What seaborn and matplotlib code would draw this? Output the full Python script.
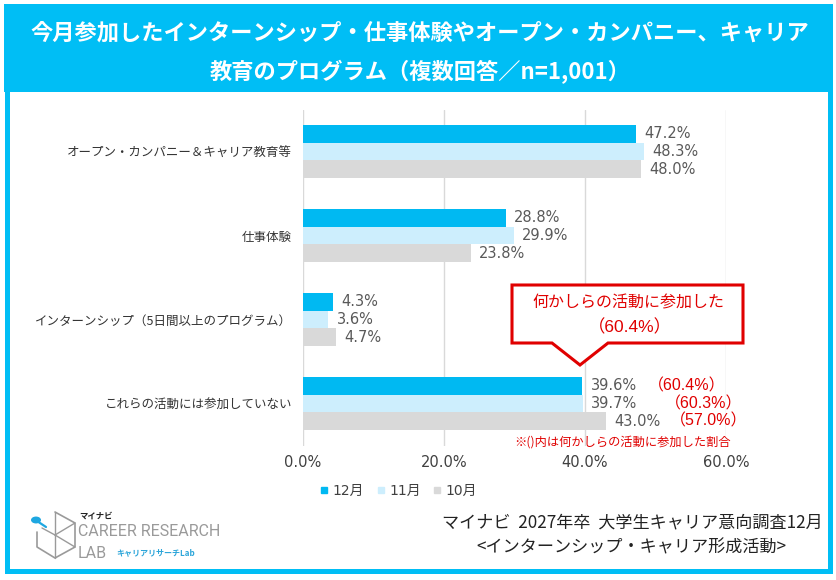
import matplotlib
matplotlib.use("Agg")
import matplotlib.pyplot as plt
import seaborn as sns
import pandas as pd
from matplotlib.patches import Rectangle, Polygon, Circle
from matplotlib.lines import Line2D

# ---------------- data ----------------
categories = [
    "オープン・カンパニー＆キャリア教育等",
    "仕事体験",
    "インターンシップ（5日間以上のプログラム）",
    "これらの活動には参加していない",
]
months = ["12月", "11月", "10月"]
values_dec = [47.2, 28.8, 4.3, 39.6]
values_nov = [48.3, 29.9, 3.6, 39.7]
values_oct = [48.0, 23.8, 4.7, 43.0]
participated = [60.4, 60.3, 57.0]  # 何かしらの活動に参加した割合 (12月, 11月, 10月)
x_ticks = [0, 20, 40, 60]
x_tick_labels = ["0.0%", "20.0%", "40.0%", "60.0%"]
title_lines = [
    "今月参加したインターンシップ・仕事体験やオープン・カンパニー、キャリア",
    "教育のプログラム（複数回答／n=1,001）",
]
callout_title = "何かしらの活動に参加した"
note_text = "※()内は何かしらの活動に参加した割合"
source_lines = [
    "マイナビ  2027年卒  大学生キャリア意向調査12月",
    "<インターンシップ・キャリア形成活動>",
]

# ---------------- style ----------------
W, H = 837, 580
CYAN_BAND = "#00BEF5"
colors = ["#00B9F2", "#CDEEFD", "#D9D9D9"]
RED = "#E00000"
NUM_FONT = ["DejaVu Sans", "Noto Sans CJK JP"]
JP_FONT = ["Noto Sans CJK JP", "DejaVu Sans"]
RED_NUM_FONT = ["Liberation Sans", "Noto Sans CJK JP"]
red_offsets_pt = [49, 61, 48]

sns.set_theme(style="white")
plt.rcParams["font.family"] = JP_FONT


def fx(px):
    return px / W


def fy(py):
    return 1 - py / H


df = pd.DataFrame({
    "category": categories * 3,
    "month": [m for m in months for _ in categories],
    "value": values_dec + values_nov + values_oct,
})

fig = plt.figure(figsize=(W / 100, H / 100), dpi=100)
fig.patch.set_facecolor("white")

# outer frame and title band
fig.patches.append(Rectangle((fx(4), fy(92)), fx(833) - fx(4), fy(4) - fy(92),
                             transform=fig.transFigure, facecolor=CYAN_BAND,
                             edgecolor="none", zorder=0))
fig.patches.append(Rectangle((fx(7), fy(571)), fx(830) - fx(7), fy(6) - fy(571),
                             transform=fig.transFigure, facecolor="none",
                             edgecolor=CYAN_BAND, linewidth=3.6, zorder=0))

fig.text(fx(420), fy(33), title_lines[0], ha="center", va="center",
         color="white", fontsize=16, fontweight="bold")
fig.text(fx(420), fy(72), title_lines[1], ha="center", va="center",
         color="white", fontsize=16, fontweight="bold")

ax = fig.add_axes([fx(303), fy(445.5), fx(726) - fx(303), fy(109.5) - fy(445.5)])
ax.patch.set_alpha(0)

sns.barplot(data=df, y="category", x="value", hue="month", hue_order=months,
            order=categories, palette=colors, orient="h", width=0.625,
            errorbar=None, linewidth=0, saturation=1, legend=False, ax=ax)

for cont in ax.containers:
    ax.bar_label(cont, fmt="%.1f%%", padding=6, fontsize=10.5,
                 color="#595959", family=NUM_FONT)

# parenthesised participation rates next to the last category's bars
for j, cont in enumerate(ax.containers):
    bar = cont.patches[-1]
    ax.annotate(f"（{participated[j]:.1f}%）",
                xy=(bar.get_width(), bar.get_y() + bar.get_height() / 2),
                xytext=(red_offsets_pt[j] - 2, 0), textcoords="offset points",
                ha="left", va="center", fontsize=11.5, color=RED,
                family=RED_NUM_FONT, annotation_clip=False)

ax.set_xlim(0, 60)
ax.set_ylim(3.5, -0.5)
ax.set_xticks(x_ticks)
ax.set_xticklabels(x_tick_labels, fontsize=10.5, color="#404040", family=NUM_FONT)
ax.set_yticks(range(len(categories)))
ax.set_yticklabels(categories, fontsize=9.0, color="#333333")
ax.tick_params(axis="both", length=0)
ax.tick_params(axis="y", pad=8)
ax.tick_params(axis="x", pad=7)
ax.set_xlabel("")
ax.set_ylabel("")
for s in ax.spines.values():
    s.set_visible(False)
ax.grid(axis="x", color="#D9D9D9", linewidth=1)
ax.set_axisbelow(True)

# callout box
callout = Polygon([(fx(512), fy(285)), (fx(743), fy(285)), (fx(743), fy(343)),
                   (fx(608), fy(343)), (fx(580), fy(365)), (fx(552), fy(343)),
                   (fx(512), fy(343))], closed=True, transform=fig.transFigure,
                  facecolor="white", edgecolor=RED, linewidth=2.2,
                  clip_on=False, zorder=5)
ax.add_patch(callout)
ax.set_xlim(0, 60)
ax.set_ylim(3.5, -0.5)
fig.text(fx(628), fy(303), callout_title, ha="center", va="center",
         fontsize=11.5, color=RED, zorder=6)
fig.text(fx(630), fy(327), f"（{participated[0]:.1f}%）", ha="center",
         va="center", fontsize=12.5, color=RED, family=RED_NUM_FONT, zorder=6)

fig.text(fx(623), fy(442), note_text, ha="center", va="center",
         fontsize=8.8, color=RED)

# legend
handles = [Line2D([], [], marker="s", linestyle="", color=c, markersize=4.5)
           for c in colors]
fig.legend(handles, months, loc="center", bbox_to_anchor=(fx(398), fy(491)),
           ncol=3, frameon=False, handletextpad=0.2, columnspacing=0.8,
           handlelength=0.8, prop={"family": NUM_FONT, "size": 10},
           labelcolor="#404040")

# source
fig.text(fx(823), fy(522), source_lines[0], ha="right", va="center",
         fontsize=12.3, color="#222222")
fig.text(fx(631), fy(547), source_lines[1], ha="center", va="center",
         fontsize=12.3, color="#222222")

# logo
GRAY = "#9A9A9A"
icon = [(55, 512), (75, 523), (75, 547), (55, 558), (37, 547), (37, 532)]
xs = [fx(p[0]) for p in icon]
ys = [fy(p[1]) for p in icon]
fig.lines.append(Line2D(xs, ys, transform=fig.transFigure, color=GRAY, lw=1.2))
for a, b in [((55, 512), (55, 535)), ((55, 535), (75, 523)),
             ((55, 535), (42, 528)), ((55, 535), (55, 558)),
             ((55, 535), (75, 547))]:
    fig.lines.append(Line2D([fx(a[0]), fx(b[0])], [fy(a[1]), fy(b[1])],
                            transform=fig.transFigure, color=GRAY, lw=1.0))
fig.lines.append(Line2D([fx(37), fx(46)], [fy(521), fy(527)],
                        transform=fig.transFigure, color="#1EA7E1", lw=1.6))
fig.patches.append(Circle((fx(36), fy(520)), 5 / W, transform=fig.transFigure,
                          facecolor="#1EA7E1", edgecolor="none"))
fig.text(fx(79), fy(516), "マイナビ", ha="left", va="center", fontsize=6,
         fontweight="bold", color="#222222")
fig.text(fx(78), fy(532), "CAREER RESEARCH", ha="left", va="center",
         fontsize=11.5, color=GRAY, family=["Roboto", "DejaVu Sans"])
fig.text(fx(78), fy(553), "LAB", ha="left", va="center",
         fontsize=11.5, color=GRAY, family=["Roboto", "DejaVu Sans"])
fig.text(fx(116), fy(553), "キャリアリサーチLab", ha="left", va="center",
         fontsize=5.8, fontweight="bold", color="#2BA5D9")

fig.savefig("out.png", dpi=100)
